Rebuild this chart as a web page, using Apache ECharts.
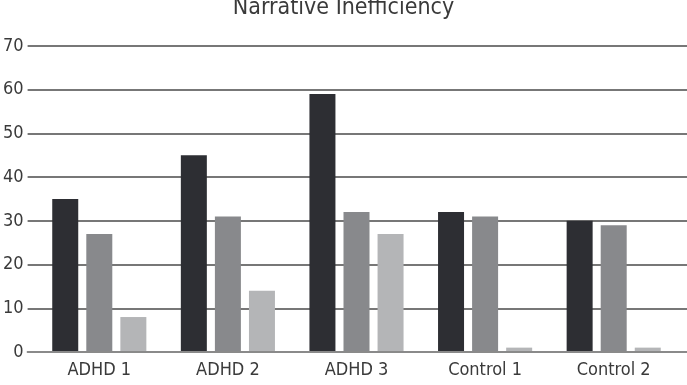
<!DOCTYPE html>
<html>
<head>
<meta charset="utf-8">
<script src="https://cdn.jsdelivr.net/npm/echarts@6/dist/echarts.min.js"></script>
<style>
  html, body { margin: 0; padding: 0; background: #fff; }
  #chart { width: 687px; height: 385px; }
</style>
</head>
<body>
<div id="chart"></div>
<script>
// data
const categories = ["ADHD 1", "ADHD 2", "ADHD 3", "Control 1", "Control 2"]
const seriesDark = [35, 45, 59, 32, 30]
const seriesMid = [27, 31, 32, 31, 29]
const seriesLight = [8, 14, 27, 1, 1]
const yTicks = { min: 0, max: 70, interval: 10 }

const FONT = "'DejaVu Sans Condensed', 'Liberation Sans Narrow', sans-serif"
const TEXT = "#3a3a3a"

const chart = echarts.init(document.getElementById("chart"))

const bar = (name, data, color) => ({
	name,
	type: "bar",
	xAxisIndex: 1,
	yAxisIndex: 1,
	data,
	barWidth: 26,
	barGap: "31%",
	itemStyle: { color },
	silent: true
})

chart.setOption({
	animation: false,
	title: {
		text: "Narrative Inefficiency",
		left: "center",
		top: -8,
		textStyle: { fontFamily: FONT, fontSize: 23, fontWeight: "normal", color: TEXT }
	},
	// grid 0 carries the grid lines (full width), grid 1 carries the bars
	grid: [
		{ left: 24, right: 0, top: 46, bottom: 33 },
		{ left: 35, right: 9, top: 46, bottom: 33 }
	],
	xAxis: [
		{
			gridIndex: 0,
			type: "value",
			min: 0,
			max: 1,
			axisLine: { show: true, lineStyle: { color: "#8a8a8a", width: 2 } },
			axisTick: { show: false },
			axisLabel: { show: false },
			splitLine: { show: false },
			z: 5
		},
		{
			gridIndex: 1,
			type: "category",
			data: categories,
			axisLine: { show: false },
			axisTick: { show: false },
			axisLabel: { fontFamily: FONT, fontSize: 18, color: TEXT, margin: 9 }
		}
	],
	yAxis: [
		{
			gridIndex: 0,
			type: "value",
			min: yTicks.min,
			max: yTicks.max,
			interval: yTicks.interval,
			axisLine: { show: false },
			axisTick: { show: false },
			axisLabel: { fontFamily: FONT, fontSize: 18, color: TEXT, margin: 4 },
			splitLine: { show: true, lineStyle: { color: "#4a4a4a", width: 1.5 } }
		},
		{
			gridIndex: 1,
			type: "value",
			min: yTicks.min,
			max: yTicks.max,
			interval: yTicks.interval,
			show: false,
			splitLine: { show: false }
		}
	],
	series: [
		bar("Dark", seriesDark, "#2d2e33"),
		bar("Mid", seriesMid, "#88898c"),
		bar("Light", seriesLight, "#b4b5b7")
	]
})

window.addEventListener("resize", () => chart.resize())
</script>
</body>
</html>
